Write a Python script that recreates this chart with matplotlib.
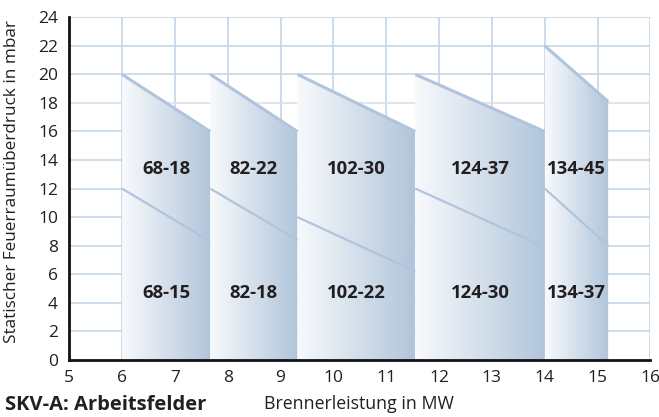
import numpy as np
import matplotlib
matplotlib.use('Agg')
import matplotlib.pyplot as plt
from matplotlib.patches import Polygon
from matplotlib.colors import LinearSegmentedColormap

# working fields (Arbeitsfelder)
x_left = [6.0, 7.67, 9.32, 11.55, 14.0]
x_right = [7.67, 9.32, 11.55, 14.0, 15.2]
upper_start = [20, 20, 20, 20, 22]
upper_end = [16, 16, 16, 16, 18.1]
lower_start = [12, 12, 10, 12, 12]
lower_end = [8.3, 8.4, 6.2, 7.9, 8.0]
labels_upper = ['68-18', '82-22', '102-30', '124-37', '134-45']
labels_lower = ['68-15', '82-18', '102-22', '124-30', '134-37']

x_ticks = list(range(5, 17))
y_ticks = list(range(0, 25, 2))

plt.rcParams['font.family'] = ['Open Sans', 'DejaVu Sans']

grid_col = '#c4d4e6'
edge_col = '#b0c5dc'
cmap = LinearSegmentedColormap.from_list('field', ['#f8fafc', '#b1c5db'])

fig = plt.figure(figsize=(6.59, 4.17), dpi=100)
ax = fig.add_axes([0.105, 0.137, 0.882, 0.8215])
ax.set_xlim(5, 16)
ax.set_ylim(0, 24)

# grid
for x in x_ticks[1:]:
    ax.axvline(x, color=grid_col, lw=1.2, zorder=0)
for y in y_ticks[1:]:
    c = '#dde2e8' if y == 18 else grid_col
    ax.axhline(y, color=c, lw=1.2, zorder=0)

grad = np.linspace(0, 1, 256).reshape(1, -1)
for i in range(len(x_left)):
    x0, x1 = x_left[i], x_right[i]
    pts = [(x0, 0), (x0, upper_start[i]), (x1, upper_end[i]), (x1, 0)]
    poly = Polygon(pts, closed=True, facecolor='none', edgecolor='none')
    ax.add_patch(poly)
    im = ax.imshow(grad, cmap=cmap, aspect='auto', extent=[x0, x1, 0, upper_start[i]],
                   origin='lower', zorder=2)
    im.set_clip_path(poly)
    ax.plot([x0, x1], [upper_start[i], upper_end[i]], color=edge_col, lw=2.2,
            solid_capstyle='butt', zorder=3)
    ax.plot([x0, x1], [lower_start[i], lower_end[i]], color=edge_col, lw=1.6,
            solid_capstyle='butt', zorder=3)
    xc = (x0 + x1) / 2
    ax.text(xc, 13.4, labels_upper[i], ha='center', va='center', fontsize=13.3,
            fontweight='bold', color='#231f20', zorder=4)
    ax.text(xc, 4.7, labels_lower[i], ha='center', va='center', fontsize=13.3,
            fontweight='bold', color='#231f20', zorder=4)

ax.set_xticks(x_ticks)
ax.set_yticks(y_ticks)
ax.tick_params(length=0, labelsize=12.5, colors='#231f20')
ax.tick_params(axis='x', pad=7)
ax.tick_params(axis='y', pad=8)
for s in ['top', 'right']:
    ax.spines[s].set_visible(False)
for s in ['left', 'bottom']:
    ax.spines[s].set_linewidth(2)
    ax.spines[s].set_color('#111111')
    ax.spines[s].set_zorder(5)

ax.set_ylabel('Statischer Feuerraumüberdruck in mbar', fontsize=12.3, color='#231f20')
ax.yaxis.set_label_coords(-0.085, 0.52)
fig.text(0.545, 0.018, 'Brennerleistung in MW', ha='center', va='baseline', fontsize=12.8,
         color='#231f20')
fig.text(0.007, 0.016, 'SKV-A: Arbeitsfelder', ha='left', va='baseline', fontsize=14.5,
         fontweight='bold', color='#231f20')

fig.savefig('out.png', dpi=100)
